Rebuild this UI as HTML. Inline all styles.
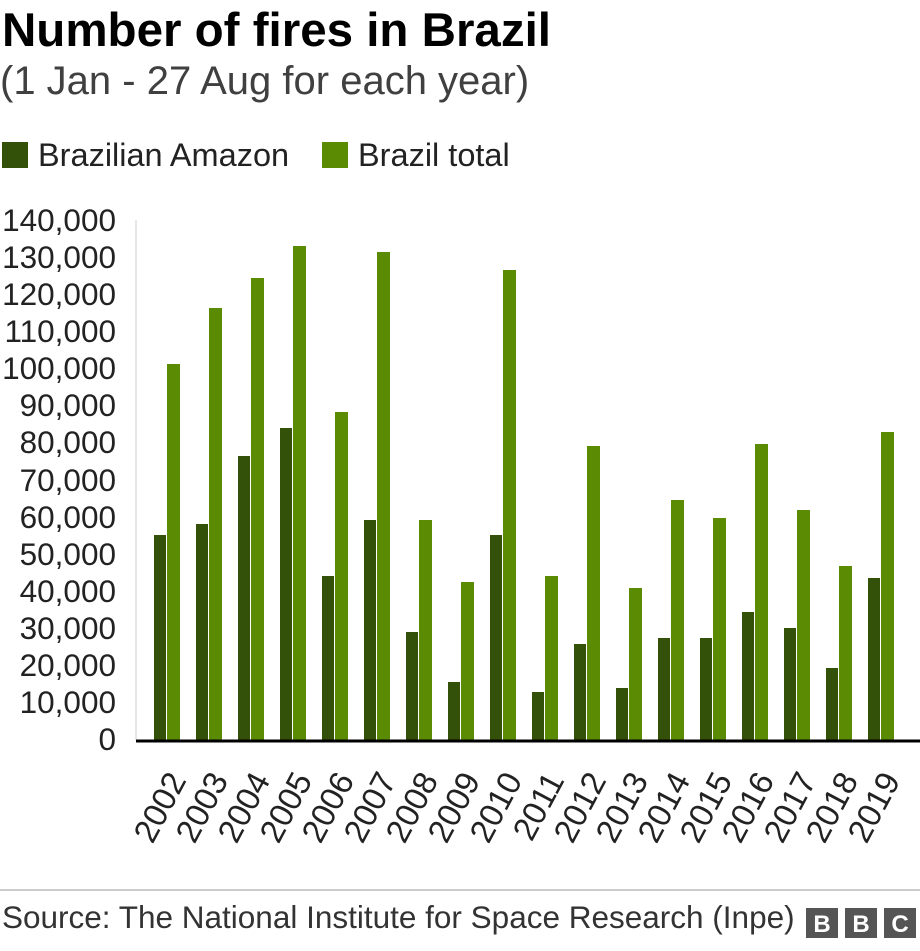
<!DOCTYPE html>
<html><head><meta charset="utf-8"><style>
body{margin:0;width:920px;height:946px;background:#fff;overflow:hidden;font-family:"Liberation Sans",Arial,sans-serif}
</style></head><body>
<svg width="920" height="946" xmlns="http://www.w3.org/2000/svg" font-family="Liberation Sans, Arial, sans-serif">
<text x="2" y="46" font-size="47.5" font-weight="bold" fill="#000">Number of fires in Brazil</text>
<text x="0" y="94" font-size="40" fill="#404040">(1 Jan - 27 Aug for each year)</text>
<rect x="2" y="142" width="26" height="26" fill="#335108"/>
<text x="38" y="166" font-size="32.5" fill="#222">Brazilian Amazon</text>
<rect x="322" y="142" width="26" height="26" fill="#5b8b02"/>
<text x="358" y="166" font-size="32.5" fill="#222">Brazil total</text>
<g font-size="31.5" fill="#222" text-anchor="end">
<text x="116" y="231">140,000</text><text x="116" y="268">130,000</text><text x="116" y="305">120,000</text>
<text x="116" y="342">110,000</text><text x="116" y="379">100,000</text><text x="116" y="416">90,000</text>
<text x="116" y="453">80,000</text><text x="116" y="491">70,000</text><text x="116" y="528">60,000</text>
<text x="116" y="565">50,000</text><text x="116" y="602">40,000</text><text x="116" y="639">30,000</text>
<text x="116" y="676">20,000</text><text x="116" y="713">10,000</text><text x="116" y="750">0</text>
</g>
<line x1="136" y1="220" x2="136" y2="740" stroke="#ccc" stroke-width="1"/>
<g id="bars"></g>
<line x1="136" y1="741" x2="920" y2="741" stroke="#000" stroke-width="3"/>
<g id="labels" font-size="33" fill="#222" text-anchor="end"></g>
<line x1="0" y1="890" x2="920" y2="890" stroke="#999" stroke-width="1"/>
<text x="2" y="928" font-size="31.5" fill="#333">Source: The National Institute for Space Research (Inpe)</text>
<g>
<rect x="806" y="908" width="32" height="30" fill="#555"/><text x="822" y="932" font-size="24" font-weight="bold" fill="#fff" text-anchor="middle">B</text>
<rect x="845" y="908" width="32" height="30" fill="#555"/><text x="861" y="932" font-size="24" font-weight="bold" fill="#fff" text-anchor="middle">B</text>
<rect x="884" y="908" width="32" height="30" fill="#555"/><text x="900" y="932" font-size="24" font-weight="bold" fill="#fff" text-anchor="middle">C</text>
</g>
</svg>
<script>
var am=[535,524,456,428,576,520,632,682,535,692,644,688,638,638,612,628,668,578];
var tt=[364,308,278,246,412,252,520,582,270,576,446,588,500,518,444,510,566,432];
var b=document.getElementById('bars'),l=document.getElementById('labels'),h="",lh="";
for(var i=0;i<18;i++){var x=154+i*42;
h+='<rect x="'+x+'" y="'+am[i]+'" width="12" height="'+(740-am[i])+'" fill="#335108"/>';
h+='<rect x="'+(x+13)+'" y="'+tt[i]+'" width="13" height="'+(740-tt[i])+'" fill="#5b8b02"/>';
lh+='<text transform="translate('+(x+33)+',780) rotate(-62)">'+(2002+i)+'</text>';}
b.innerHTML=h;l.innerHTML=lh;
</script>
</body></html>
